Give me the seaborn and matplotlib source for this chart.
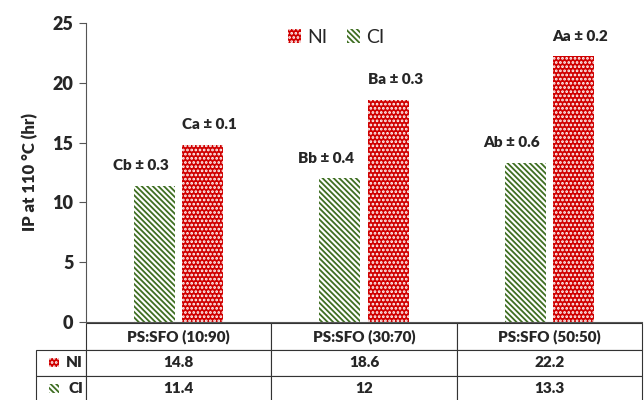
import numpy as np
import pandas as pd
import matplotlib
matplotlib.use("Agg")
import matplotlib.pyplot as plt
import seaborn as sns
from matplotlib.patches import Rectangle
from matplotlib.table import Table

# data
categories = ["PS:SFO (10:90)", "PS:SFO (30:70)", "PS:SFO (50:50)"]
ni_values = [14.8, 18.6, 22.2]
ci_values = [11.4, 12, 13.3]
ni_labels = ["Ca ± 0.1", "Ba ± 0.3", "Aa ± 0.2"]
ci_labels = ["Cb ± 0.3", "Bb ± 0.4", "Ab ± 0.6"]
ni_table = ["14.8", "18.6", "22.2"]
ci_table = ["11.4", "12", "13.3"]

RED = "#D00000"
GREEN = "#3F6F22"
NI_HATCH = "...."
CI_HATCH = "\\\\\\\\\\\\"

sns.set_style("white")
plt.rcParams["font.family"] = ["Lato", "DejaVu Sans"]
plt.rcParams["hatch.linewidth"] = 1.3

df = pd.DataFrame({
    "group": categories * 2,
    "value": ci_values + ni_values,
    "series": ["CI"] * 3 + ["NI"] * 3,
})

fig = plt.figure(figsize=(6.44, 4.0), dpi=100)
ax = fig.add_axes([0.1335, 0.195, 0.8635, 0.7475])

sns.barplot(data=df, x="group", y="value", hue="series", hue_order=["CI", "NI"],
            order=categories, width=0.52, gap=0.15, ax=ax, legend=False,
            palette={"CI": "white", "NI": RED}, saturation=1)

# containers: first CI, then NI
ci_bars, ni_bars = ax.containers[0], ax.containers[1]
for b in ci_bars:
    b.set_facecolor("white")
    b.set_edgecolor(GREEN)
    b.set_hatch(CI_HATCH)
    b.set_linewidth(0)
for b in ni_bars:
    b.set_facecolor(RED)
    b.set_edgecolor("white")
    b.set_hatch(NI_HATCH)
    b.set_linewidth(0)

# value annotations
for b, lab in zip(ci_bars, ci_labels):
    ax.annotate(lab, (b.get_x() + b.get_width() / 2, b.get_height()),
                xytext=(-10, 10), textcoords="offset points", ha="center", va="bottom",
                fontsize=11, fontweight="heavy")
for b, lab in zip(ni_bars, ni_labels):
    ax.annotate(lab, (b.get_x() + b.get_width() / 2, b.get_height()),
                xytext=(5, 10), textcoords="offset points", ha="center", va="bottom",
                fontsize=11, fontweight="heavy")

ax.set_ylim(0, 25)
ax.set_yticks([0, 5, 10, 15, 20, 25])
ax.set_xlim(-0.5, 2.5)
ax.set_xticks([])
ax.set_xlabel("")
ax.set_ylabel("IP at 110 °C (hr)", fontsize=12, fontweight="heavy", labelpad=10)
for t in ax.get_yticklabels():
    t.set_fontweight("heavy")
    t.set_fontsize(13)
ax.tick_params(axis="y", direction="out", length=5, width=0.8, color="#555555", pad=4, left=True)
for s in ["top", "right"]:
    ax.spines[s].set_visible(False)
ax.spines["left"].set_color("#555555")
ax.spines["bottom"].set_color("#555555")

# legend
handles = [Rectangle((0, 0), 1, 1, facecolor=RED, edgecolor="white", hatch=NI_HATCH, linewidth=0),
           Rectangle((0, 0), 1, 1, facecolor="white", edgecolor=GREEN, hatch=CI_HATCH, linewidth=0)]
ax.legend(handles, ["NI", "CI"], loc="upper center", bbox_to_anchor=(0.45, 1.04), ncol=2,
          frameon=False, fontsize=14, handlelength=0.7, handleheight=0.7,
          handletextpad=0.3, columnspacing=1.0)

# data table under the axes
h = 0.262
lab_w = 50 / 556
tab = Table(ax, bbox=[-lab_w, -h - 0.005, 1 + lab_w, h])
rows = [categories, ni_table, ci_table]
for r, vals in enumerate(rows):
    for c, v in enumerate(vals):
        tab.add_cell(r, c + 1, width=1 / 3, height=1 / 3, text=v, loc="center")
    if r > 0:
        tab.add_cell(r, 0, width=lab_w, height=1 / 3, text=["NI", "CI"][r - 1], loc="right")
tab.auto_set_font_size(False)
for (r, c), cell in tab.get_celld().items():
    cell.set_linewidth(0.8)
    cell.set_edgecolor("#333333")
    cell.get_text().set_fontweight("heavy")
    cell.get_text().set_fontsize(11)
    if c == 0:
        cell.PAD = 0.06
ax.add_table(tab)

# small icons in the row-label cells
for row, (fc, ec, hatch) in enumerate([(RED, "white", NI_HATCH), ("white", GREEN, CI_HATCH)]):
    yc = -h - 0.005 + h * (2 - row) / 3 - h / 6
    ax.add_patch(Rectangle((-0.066, yc - 0.015), 0.017, 0.03, transform=ax.transAxes,
                           facecolor=fc, edgecolor=ec, hatch=hatch, linewidth=0,
                           clip_on=False))

fig.savefig("out.png", dpi=100)
